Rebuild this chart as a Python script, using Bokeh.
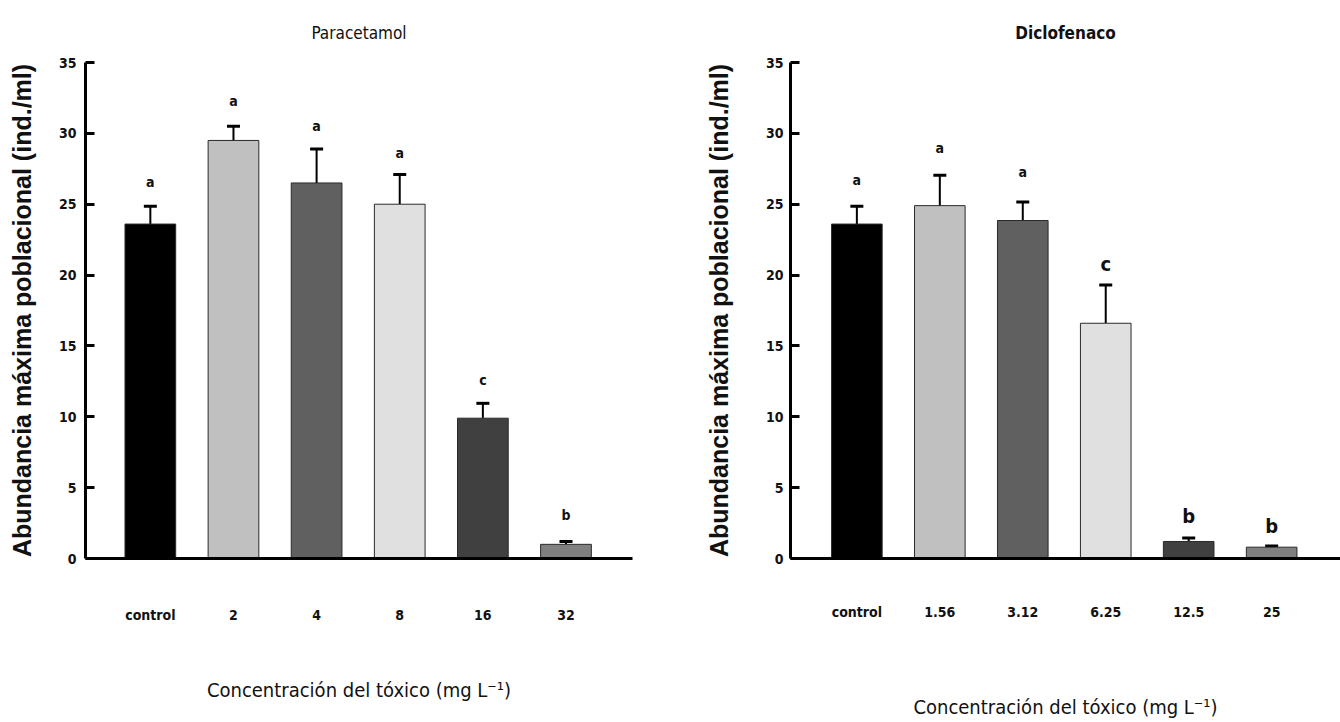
from bokeh.plotting import figure
from bokeh.layouts import row
from bokeh.models import Range1d, FixedTicker, ColumnDataSource, Whisker, TeeHead
from bokeh.core.properties import value
from bokeh.embed import file_html
from bokeh.resources import INLINE

# ---- data ----
para_labels = ["control", "2", "4", "8", "16", "32"]
para_mean = [23.6, 29.5, 26.5, 25.0, 9.9, 1.0]
para_sd = [1.25, 1.0, 2.4, 2.1, 1.05, 0.2]
para_letters = ["a", "a", "a", "a", "c", "b"]
para_letter_y = [26.6, 32.3, 30.5, 28.6, 12.6, 3.1]

diclo_labels = ["control", "1.56", "3.12", "6.25", "12.5", "25"]
diclo_mean = [23.6, 24.9, 23.85, 16.6, 1.2, 0.8]
diclo_sd = [1.25, 2.15, 1.3, 2.7, 0.25, 0.08]
diclo_letters = ["a", "a", "a", "c", "b", "b"]
diclo_letter_y = [26.7, 29.0, 27.3, 20.75, 3.0, 2.3]
diclo_letter_size = ["14px", "14px", "14px", "20px", "20px", "20px"]

bar_colors = ["#000000", "#c0c0c0", "#606060", "#e0e0e0", "#404040", "#808080"]

y_label = "Abundancia máxima poblacional (ind./ml)"
x_label = "Concentración del tóxico (mg L⁻¹)"
y_ticks = [0, 5, 10, 15, 20, 25, 30, 35]

NARROW = "DejaVu Sans Condensed"
INK = "#111111"


def make_panel(title, labels, mean, sd, letters, letter_y, letter_size,
               xr, borders, title_bold, tick_standoff, ylab_standoff,
               xtick_standoff, xlab_standoff):
    left, right, top, bottom = borders
    p = figure(width=670, height=722, output_backend="svg", toolbar_location=None,
               x_range=Range1d(*xr), y_range=Range1d(0, 35),
               min_border_left=left, min_border_right=right,
               min_border_top=top, min_border_bottom=bottom)
    p.outline_line_color = None
    p.grid.visible = False
    p.background_fill_color = "white"
    p.border_fill_color = "white"

    x = list(range(len(labels)))
    src = ColumnDataSource(dict(x=x, top=mean, upper=[m + s for m, s in zip(mean, sd)],
                                color=bar_colors, letters=letters, ly=letter_y,
                                lsize=letter_size))
    p.vbar(x="x", top="top", width=0.61, bottom=0, fill_color="color",
           line_color="#2a2a2a", line_width=1, source=src)
    w = Whisker(base="x", upper="upper", lower="top", source=src, dimension="height",
                line_width=2, line_color="black",
                upper_head=TeeHead(size=13, line_width=3, line_color="black"),
                lower_head=None)
    p.add_layout(w)
    p.text(x="x", y="ly", text="letters", source=src, text_align="center",
           text_baseline="middle", text_font=value(NARROW), text_font_style="bold",
           text_font_size="lsize", text_color=INK)

    # y axis
    ya = p.yaxis[0]
    ya.ticker = FixedTicker(ticks=y_ticks)
    ya.axis_line_width = 3
    ya.major_tick_line_width = 3
    ya.major_tick_in = 9
    ya.major_tick_out = 0
    ya.minor_tick_line_color = None
    ya.major_label_text_font = NARROW
    ya.major_label_text_font_style = "bold"
    ya.major_label_text_font_size = "14px"
    ya.major_label_text_color = INK
    ya.major_label_standoff = tick_standoff
    ya.axis_label = y_label
    ya.axis_label_text_font = "Liberation Sans"
    ya.axis_label_text_font_style = "bold"
    ya.axis_label_text_font_size = "25px"
    ya.axis_label_standoff = ylab_standoff
    ya.axis_label_text_color = INK

    # x axis
    xa = p.xaxis[0]
    xa.ticker = FixedTicker(ticks=x)
    xa.major_label_overrides = {i: lab for i, lab in enumerate(labels)}
    xa.axis_line_width = 3
    xa.major_tick_line_color = None
    xa.minor_tick_line_color = None
    xa.major_label_text_font = NARROW
    xa.major_label_text_font_style = "bold"
    xa.major_label_text_font_size = "14px"
    xa.major_label_text_color = INK
    xa.major_label_standoff = xtick_standoff
    xa.axis_label = x_label
    xa.axis_label_text_font = NARROW
    xa.axis_label_text_font_style = "normal"
    xa.axis_label_text_font_size = "20px"
    xa.axis_label_standoff = xlab_standoff
    xa.axis_label_text_color = INK

    p.title.text = title
    p.title.align = "center"
    p.title.text_font = NARROW
    p.title.text_font_size = "17px"
    p.title.text_color = INK
    p.title.text_font_style = "bold" if title_bold else "normal"
    p.title.standoff = 40
    return p


p1 = make_panel("Paracetamol", para_labels, para_mean, para_sd, para_letters,
                para_letter_y, ["14px"] * 6, (-0.78, 5.8), (85, 38, 62, 162),
                False, 9, 20, 42, 52)
p2 = make_panel("Diclofenaco", diclo_labels, diclo_mean, diclo_sd, diclo_letters,
                diclo_letter_y, diclo_letter_size, (-0.8, 5.83), (120, 0, 62, 164),
                True, 7, 30, 39, 72)

layout = row(p1, p2)
open("out.html", "w").write(file_html(layout, INLINE))
